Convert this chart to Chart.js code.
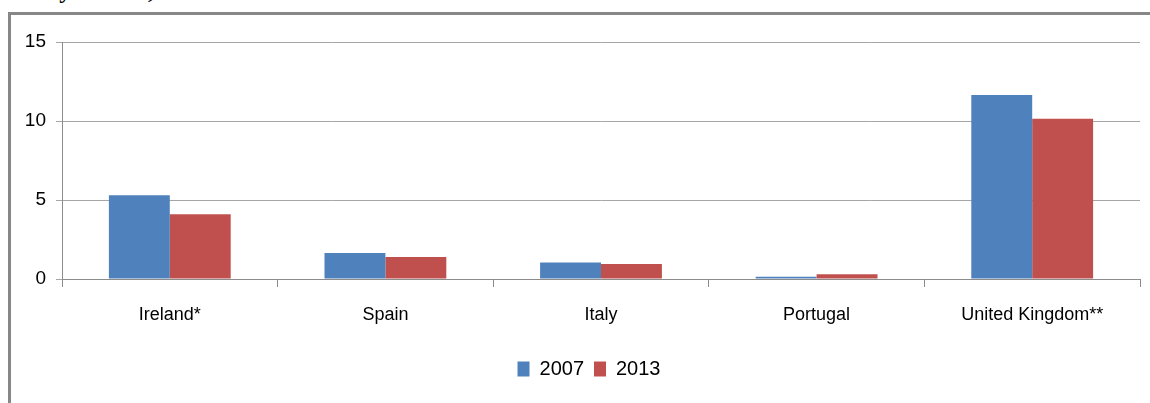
<!DOCTYPE html>
<html>
<head>
<meta charset="utf-8">
<script src="https://cdn.jsdelivr.net/npm/chart.js@4.4.0/dist/chart.umd.min.js"></script>
<style>
  html, body { margin: 0; padding: 0; background: #fff; overflow: hidden; }
  #wrap { position: relative; width: 1150px; height: 403px; }
  #frame {
    position: absolute; left: 8px; top: 12px; width: 1150px; height: 400px;
    border-top: 3px solid #878787; border-left: 3px solid #878787;
  }
  #caption {
    position: absolute; left: 46px; top: -23px; line-height: 24px;
    font: bold 24px "Liberation Serif", serif; color: #000;
  }
  canvas { position: absolute; left: 0; top: 0; }
</style>
</head>
<body>
<div id="wrap">
  <div id="caption">by sectors,</div>
  <div id="frame"></div>
  <canvas id="chart" width="1150" height="403"></canvas>
</div>
<script>
const categories = ['Ireland*', 'Spain', 'Italy', 'Portugal', 'United Kingdom**'];
const values2007 = [5.3, 1.65, 1.05, 0.15, 11.65];
const values2013 = [4.1, 1.4, 0.95, 0.3, 10.15];
const yTicks = [0, 5, 10, 15];

const FONT = '"Liberation Sans", Arial, sans-serif';

// the original legend sits a little right of the canvas centre
const shiftLegend = {
  id: 'shiftLegend',
  afterLayout(chart) {
    chart.legend.left += 19;
    chart.legend.right += 19;
  }
};

const ctx = document.getElementById('chart').getContext('2d');
new Chart(ctx, {
  type: 'bar',
  data: {
    labels: categories,
    datasets: [
      { label: '2007', data: values2007, backgroundColor: '#4F81BD', borderWidth: 0 },
      { label: '2013', data: values2013, backgroundColor: '#C0504D', borderWidth: 0 }
    ]
  },
  options: {
    responsive: false,
    animation: false,
    layout: { padding: { left: 0, right: 10, top: 42, bottom: 14 } },
    datasets: { bar: { barPercentage: 1, categoryPercentage: 0.565 } },
    scales: {
      x: {
        grid: { offset: true, drawOnChartArea: false, color: '#8c8c8c', tickLength: 8, lineWidth: 1 },
        border: { color: '#8c8c8c', width: 1 },
        ticks: { color: '#000', font: { family: FONT, size: 18 }, padding: 17 },
        afterFit: s => { s.height = 70; }
      },
      y: {
        min: 0,
        max: 15,
        afterBuildTicks: s => { s.ticks = yTicks.map(v => ({ value: v })); },
        grid: { color: '#a6a6a6', tickLength: 6, lineWidth: 1 },
        border: { color: '#8c8c8c', width: 1 },
        ticks: { color: '#000', font: { family: FONT, size: 19 }, padding: 10 },
        afterFit: s => { s.width = 62; }
      }
    },
    plugins: {
      legend: {
        position: 'bottom',
        labels: {
          color: '#000',
          font: { family: FONT, size: 20 },
          boxWidth: 12,
          boxHeight: 15,
          padding: 10
        }
      },
      tooltip: { enabled: false }
    }
  },
  plugins: [shiftLegend]
});
</script>
</body>
</html>
